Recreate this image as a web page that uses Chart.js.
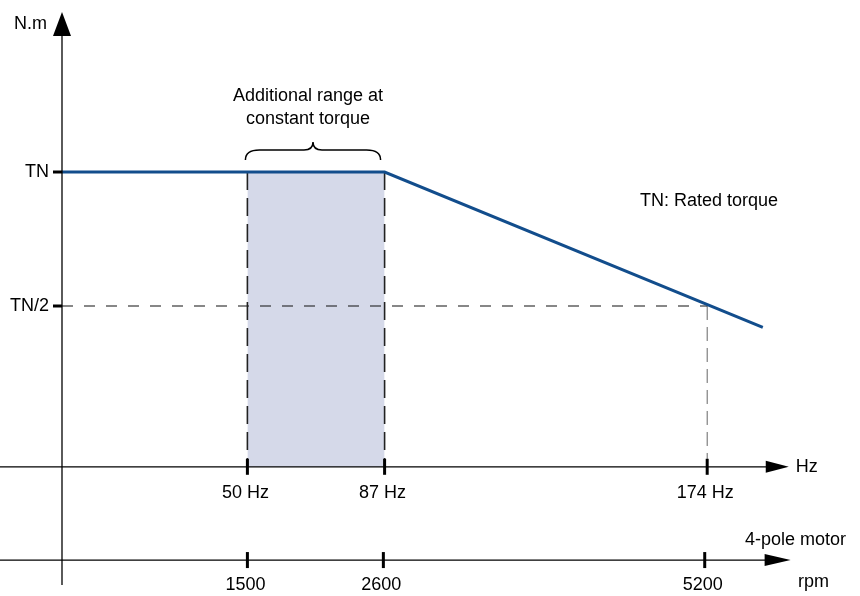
<!DOCTYPE html>
<html>
<head>
<meta charset="utf-8">
<script src="https://cdn.jsdelivr.net/npm/chart.js@4.4.1/dist/chart.umd.min.js"></script>
<style>
    html, body { margin: 0; padding: 0; background: #ffffff; }
    #wrap { width: 860px; height: 596px; }
</style>
</head>
<body>
<div id="wrap"><canvas id="chart"></canvas></div>
<script>
// frequency points of the torque curve (Hz) and torque (in units of TN)
let curveHz     = [0, 87, 189];
let curveTorque = [1, 1, 0.42];

// constant torque extension band
let bandHz = [50, 87];

// tick positions and labels
let hzTicks     = [50, 87, 174];
let hzLabels    = ["50 Hz", "87 Hz", "174 Hz"];
let rpmTicks    = [1500, 2600, 5200];
let rpmLabels   = ["1500", "2600", "5200"];
let torqueTicks = [1, 0.5];
let torqueLabels = ["TN", "TN/2"];

let axisBase = -0.1;      // torque value where the Hz axis sits
let rpmPerHz = 30;        // 4-pole motor

const FONT = "18px 'Liberation Sans', Arial, sans-serif";
const LINE_BLUE = "#124d8c";

/**
 * Makes a two point dataset.
 */
function seg(x1, y1, x2, y2, opts)
{
    return Object.assign({
        data: [{x: x1, y: y1}, {x: x2, y: y2}],
        pointRadius: 0,
        fill: false,
        tension: 0
    }, opts);
}

function curvePoints()
{
    let pts = [];
    for(let i = 0; i < curveHz.length; i++)
    {
        pts.push({x: curveHz[i], y: curveTorque[i]});
    }
    return pts;
}

/**
 * Draws an arrow head pointing in direction (dx,dy).
 */
function arrowHead(ctx, x, y, dx, dy, len, half)
{
    let px = -dy, py = dx;
    ctx.beginPath();
    ctx.moveTo(x, y);
    ctx.lineTo(x - dx * len + px * half, y - dy * len + py * half);
    ctx.lineTo(x - dx * len - px * half, y - dy * len - py * half);
    ctx.closePath();
    ctx.fill();
}

let axesPlugin = {
    id: "axes",
    afterDraw(chart)
    {
        let ctx = chart.ctx;
        let xs = chart.scales.x;
        let rs = chart.scales.rpm;
        let ys = chart.scales.y;

        let x0    = xs.getPixelForValue(0);
        let hzY   = ys.getPixelForValue(axisBase);
        let rpmY  = ys.getPixelForValue(-0.448);

        ctx.save();
        ctx.strokeStyle = "#000";
        ctx.fillStyle = "#000";
        ctx.lineWidth = 1.3;

        // y axis
        ctx.beginPath();
        ctx.moveTo(x0, 585);
        ctx.lineTo(x0, 30);
        ctx.stroke();
        arrowHead(ctx, x0, 12, 0, -1, 24, 9);

        // Hz axis
        let hzEnd = xs.getPixelForValue(196);
        ctx.beginPath();
        ctx.moveTo(0, hzY);
        ctx.lineTo(hzEnd - 10, hzY);
        ctx.stroke();
        arrowHead(ctx, hzEnd, hzY, 1, 0, 23, 6);

        // rpm axis
        let rpmEnd = rs.getPixelForValue(196.5 * rpmPerHz);
        ctx.beginPath();
        ctx.moveTo(0, rpmY);
        ctx.lineTo(rpmEnd - 10, rpmY);
        ctx.stroke();
        arrowHead(ctx, rpmEnd, rpmY, 1, 0, 26, 6);

        // ticks
        ctx.lineWidth = 3;
        ctx.font = FONT;
        ctx.textAlign = "center";
        ctx.textBaseline = "middle";
        for(let i = 0; i < hzTicks.length; i++)
        {
            let px = xs.getPixelForValue(hzTicks[i]);
            ctx.beginPath();
            ctx.moveTo(px, hzY - 8);
            ctx.lineTo(px, hzY + 8);
            ctx.stroke();
            ctx.fillText(hzLabels[i], px - 2, hzY + 26);
        }
        for(let i = 0; i < rpmTicks.length; i++)
        {
            let px = rs.getPixelForValue(rpmTicks[i]);
            ctx.beginPath();
            ctx.moveTo(px, rpmY - 8);
            ctx.lineTo(px, rpmY + 8);
            ctx.stroke();
            ctx.fillText(rpmLabels[i], px - 2, rpmY + 25);
        }
        ctx.textAlign = "right";
        for(let i = 0; i < torqueTicks.length; i++)
        {
            let py = ys.getPixelForValue(torqueTicks[i]);
            ctx.beginPath();
            ctx.moveTo(x0 - 9, py);
            ctx.lineTo(x0, py);
            ctx.stroke();
            ctx.fillText(torqueLabels[i], x0 - 13, py);
        }

        // axis titles and notes
        ctx.fillText("N.m", 47, 24);
        ctx.fillText("4-pole motor", 846, rpmY - 20);
        ctx.textAlign = "left";
        ctx.fillText("Hz", hzEnd + 7, hzY);
        ctx.fillText("rpm", 798, rpmY + 22);
        ctx.fillText("TN: Rated torque", 640, 201);

        // brace over the extra band
        let bx1 = xs.getPixelForValue(bandHz[0]) - 2;
        let bx2 = xs.getPixelForValue(bandHz[1]) - 4;
        let mid = (bx1 + bx2) / 2;
        let by  = 150;
        ctx.lineWidth = 1.5;
        ctx.beginPath();
        ctx.moveTo(bx1, by + 10);
        ctx.quadraticCurveTo(bx1, by, bx1 + 14, by);
        ctx.lineTo(mid - 9, by);
        ctx.quadraticCurveTo(mid, by, mid, by - 8);
        ctx.quadraticCurveTo(mid, by, mid + 9, by);
        ctx.lineTo(bx2 - 14, by);
        ctx.quadraticCurveTo(bx2, by, bx2, by + 10);
        ctx.stroke();

        ctx.textAlign = "center";
        ctx.fillText("Additional range at", 308, 96);
        ctx.fillText("constant torque", 308, 119);

        ctx.restore();
    }
};

function drawChart()
{
    let datasets = [
        // torque curve
        {
            data: curvePoints(),
            borderColor: LINE_BLUE,
            borderWidth: 3,
            pointRadius: 0,
            fill: false,
            tension: 0,
            order: 0
        },
        // dashed guides
        seg(bandHz[0], curveTorque[0], bandHz[0], axisBase, {borderColor: "#222", borderWidth: 1.6, borderDash: [18, 8], order: 1}),
        seg(bandHz[1], curveTorque[0], bandHz[1], axisBase, {borderColor: "#222", borderWidth: 1.6, borderDash: [18, 8], order: 1}),
        seg(0, 0.5, hzTicks[2], 0.5, {borderColor: "#111", borderWidth: 1, borderDash: [11, 11], order: 1}),
        seg(hzTicks[2], 0.5, hzTicks[2], axisBase, {borderColor: "#666", borderWidth: 1, borderDash: [14, 7], order: 1}),
        // shaded band
        {
            data: [{x: bandHz[0], y: curveTorque[0]}, {x: bandHz[1], y: curveTorque[0]}],
            borderWidth: 0,
            pointRadius: 0,
            backgroundColor: "#d5d9e9",
            fill: {value: axisBase},
            order: 2
        }
    ];

    new Chart(document.getElementById("chart"), {
        type: "line",
        data: { datasets: datasets },
        options: {
            responsive: true,
            maintainAspectRatio: false,
            animation: false,
            layout: { padding: 0 },
            plugins: {
                legend: { display: false },
                tooltip: { enabled: false }
            },
            scales: {
                x: { type: "linear", display: false, min: -16.72, max: 215.21 },
                rpm: { type: "linear", axis: "x", display: false, min: -16.72 * rpmPerHz, max: 215.21 * rpmPerHz },
                y: { type: "linear", display: false, min: -0.5821, max: 1.6418 }
            }
        },
        plugins: [axesPlugin]
    });
}

drawChart();
</script>
</body>
</html>
